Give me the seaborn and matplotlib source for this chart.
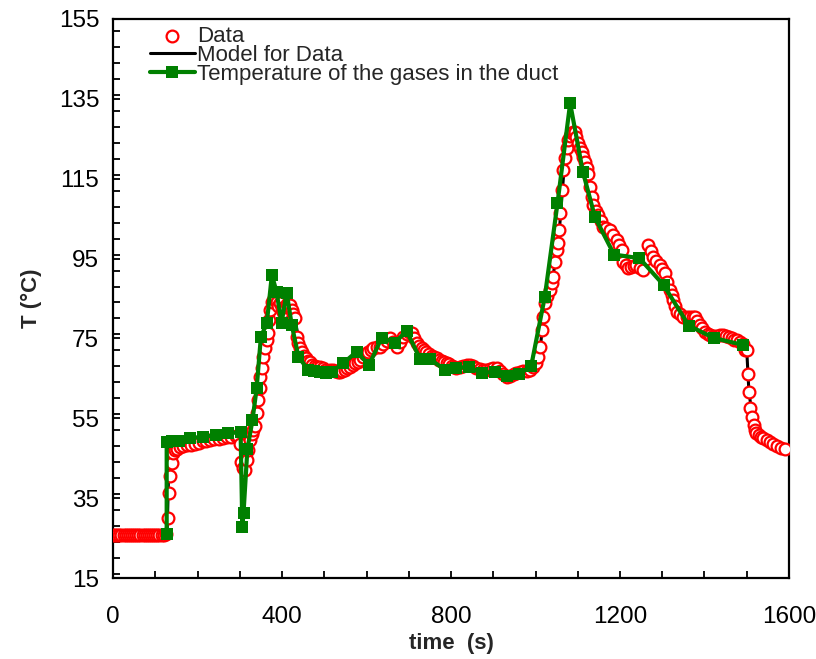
import matplotlib
matplotlib.use("Agg")
import matplotlib.pyplot as plt
import seaborn as sns
import pandas as pd
from matplotlib.ticker import MultipleLocator

# ---------------- data ----------------
data_t = [0, 5, 10, 15, 20, 25, 30, 35, 40, 45, 50, 55, 60, 65, 70, 75, 80, 85, 90, 95, 100, 105, 110, 115, 120, 125,
          131, 133, 135, 139, 143, 147, 152, 159, 166, 175, 185, 194, 203, 212, 221, 230, 240, 250, 261, 270, 280, 290,
          296, 300, 304, 308, 312, 316, 320, 324, 328, 332, 336, 340, 344, 347, 349, 352, 356, 360, 364, 367, 370, 372,
          376, 380, 383, 387, 391, 395, 399, 403, 407, 411, 415, 419, 423, 427, 431, 435, 439, 443, 447, 452, 457, 462,
          466, 472, 478, 484, 490, 496, 502, 508, 514, 520, 526, 532, 537, 543, 549, 555, 561, 567, 573, 579, 585, 591,
          597, 603, 610, 616, 624, 632, 640, 648, 656, 663, 671, 679, 687, 695, 701, 707, 713, 719, 725, 731, 737, 742,
          748, 754, 760, 766, 772, 778, 784, 790, 796, 802, 808, 813, 821, 829, 837, 845, 853, 860, 868, 876, 884, 892,
          900, 908, 916, 924, 932, 940, 948, 955, 963, 971, 979, 987, 995, 1001, 1007, 1011, 1015, 1018, 1022, 1028,
          1034, 1038, 1042, 1046, 1050, 1054, 1056, 1058, 1062, 1066, 1070, 1074, 1078, 1082, 1086, 1089, 1093, 1097,
          1101, 1105, 1109, 1113, 1117, 1121, 1125, 1129, 1133, 1137, 1143, 1149, 1155, 1160, 1168, 1176, 1184, 1192,
          1198, 1204, 1208, 1214, 1220, 1227, 1233, 1239, 1247, 1255, 1261, 1267, 1273, 1279, 1286, 1294, 1300, 1306,
          1312, 1318, 1322, 1326, 1330, 1334, 1342, 1350, 1358, 1366, 1372, 1378, 1383, 1389, 1395, 1401, 1408, 1414,
          1421, 1428, 1436, 1444, 1450, 1457, 1464, 1470, 1477, 1484, 1490, 1496, 1500, 1502, 1505, 1508, 1512, 1516,
          1520, 1523, 1528, 1533, 1539, 1547, 1555, 1563, 1571, 1580, 1590]
data_T = [25.7] * 24 + [25.8, 26.0,
          30.1, 36.2, 40.6, 43.9, 46.4, 47.0, 47.4, 47.9, 48.0, 48.2, 48.4, 48.5, 48.9, 49.2, 49.4, 49.6, 49.8, 49.9,
          50.0, 50.2, 50.3, 50.5,
          50.6, 48.5, 44.0, 42.5, 42.0, 44.5, 47.0, 49.5, 51.0, 52.0, 53.0, 56.2, 59.6, 62.5, 65.4, 67.5, 70.4, 72.5,
          74.5, 76.3, 79.5, 82.1, 84.2, 85.0, 84.6, 84.0, 83.0, 83.8, 82.5, 81.7, 82.8, 83.5, 83.0, 83.4, 82.0, 81.0,
          80.0, 75.4, 73.8, 72.5, 71.7, 70.6, 70.0, 69.4, 69.0, 68.4, 68.0, 67.8, 67.9, 67.5, 67.0, 66.8, 67.2, 67.0,
          66.8, 66.7, 66.7, 66.9, 67.2, 67.6, 67.9, 68.3, 68.8, 69.2, 69.6, 70.3, 71.0, 71.6, 72.2, 72.5, 72.8, 72.9,
          73.5, 74.3, 75.0, 74.0, 72.9, 74.0, 75.4, 76.0, 76.5, 76.3, 75.0, 73.8, 73.0, 72.5, 72.0, 71.7, 71.2, 70.7,
          70.3, 70.0, 69.7, 69.3, 69.0, 68.8, 68.5, 68.1, 67.8, 67.5, 67.8, 68.1, 68.3, 68.3, 68.0, 67.6, 67.3, 67.1,
          67.2, 67.4, 67.5, 67.5, 66.9, 66.2, 65.4, 65.6, 66.0, 66.4, 66.7, 66.8, 66.9, 67.1, 67.8, 68.8, 70.4, 72.9,
          77.1, 80.4, 83.8, 85.5, 87.1, 88.8, 90.5, 94.2, 97.1, 98.8, 102.2, 106.3, 112.2, 117.2, 120.1, 122.6, 124.7,
          125.8, 126.4, 126.8, 126.8, 125.5, 123.9, 122.8, 121.8, 120.5, 119.3, 117.8, 116.3, 113.0, 110.5, 108.4,
          107.0, 105.9, 104.4, 103.0, 102.6, 102.2, 101.0, 99.6, 98.5, 97.1, 94.2, 93.4, 92.6, 92.8, 93.1, 93.4, 92.6,
          92.1, 95.0, 98.4, 97.0, 95.5, 94.4, 93.4, 92.4, 91.3, 89.2, 87.1, 85.8, 84.6, 83.2, 81.7, 81.0, 80.4, 80.3,
          80.4, 80.4, 80.4, 79.4, 78.4, 77.5, 76.7, 76.1, 75.8, 75.5, 75.6, 75.8, 75.9, 75.6, 75.3, 75.0, 74.7, 74.5,
          74.2, 73.5, 72.1, 72.1, 66.1, 61.7, 57.7, 55.4, 53.3, 52.0, 51.2, 50.7, 50.3, 50.0, 49.6, 49.1, 48.6, 48.1,
          47.6, 47.2]

model_t = [0, 128, 133, 150, 200, 250, 300, 305, 312, 320, 330, 345, 360, 373, 385, 400, 420, 432, 445, 470, 520,
           560, 620, 656, 680, 705, 740, 800, 850, 900, 935, 990, 1010, 1020, 1040, 1055, 1068, 1080, 1090, 1105,
           1130, 1160, 1190, 1215, 1250, 1268, 1300, 1330, 1350, 1380, 1420, 1450, 1490, 1500, 1505, 1515, 1540, 1590]
model_T = [25.7, 25.7, 47.5, 48.0, 49.0, 50.0, 51.0, 44.0, 42.0, 46.0, 51.0, 60.0, 72.5, 83.0, 85.0, 83.0, 83.0,
           79.0, 72.0, 68.5, 67.0, 67.8, 72.6, 74.5, 74.5, 76.2, 71.8, 68.2, 68.2, 67.3, 65.8, 67.3, 71.0, 82.0,
           89.5, 100.0, 118.0, 125.5, 126.8, 122.5, 112.5, 103.3, 100.0, 93.5, 92.5, 97.5, 92.3, 83.0, 80.5, 80.0,
           75.5, 75.6, 73.5, 72.0, 62.0, 53.5, 50.0, 47.2]

gas_t = [127, 127, 139, 155, 182, 212, 244, 273, 302, 306, 309, 318, 330, 340, 350, 364, 376, 387, 399, 411, 423,
         439, 462, 476, 490, 504, 518, 545, 577, 606, 636, 667, 695, 727, 750, 786, 813, 843, 873, 904, 932, 962,
         990, 1022, 1052, 1082, 1112, 1141, 1186, 1246, 1303, 1363, 1422, 1490]
gas_T = [26.0, 49.1, 49.3, 49.4, 50.0, 50.4, 50.8, 51.2, 51.6, 27.8, 31.4, 47.2, 54.5, 62.5, 75.4, 78.8, 90.9,
         86.7, 78.9, 86.5, 78.4, 70.4, 67.1, 66.8, 66.6, 66.4, 66.7, 68.8, 71.7, 68.3, 75.2, 73.9, 76.9, 69.8, 69.8,
         67.1, 67.7, 67.8, 66.3, 66.7, 65.7, 66.1, 68.2, 85.4, 108.8, 133.9, 116.8, 105.3, 96.0, 95.1, 88.4, 78.2,
         75.1, 73.4]

x_ticks = [0, 400, 800, 1200, 1600]
y_ticks = [15, 35, 55, 75, 95, 115, 135, 155]

df_data = pd.DataFrame({"t": data_t, "T": data_T})
df_model = pd.DataFrame({"t": model_t, "T": model_T})
df_gas = pd.DataFrame({"t": gas_t, "T": gas_T})

# ---------------- style ----------------
sns.set_style("ticks")
plt.rcParams["font.family"] = ["Liberation Sans", "DejaVu Sans"]

fig = plt.figure(figsize=(8.16, 6.59), dpi=100)
ax = fig.add_axes([0.1385, 0.1229, 0.8284, 0.8483])

sns.scatterplot(data=df_data, x="t", y="T", ax=ax, marker="o", s=72, facecolor="white",
                edgecolor="red", linewidth=1.6, label="Data", zorder=3)
sns.lineplot(data=df_model, x="t", y="T", ax=ax, estimator=None, sort=False, color="black",
             linewidth=2.2, label="Model for Data", zorder=2)
sns.lineplot(data=df_gas, x="t", y="T", ax=ax, estimator=None, sort=False, color="#008000",
             linewidth=3.0, marker="s", markersize=9, markeredgewidth=0,
             label="Temperature of the gases in the duct", zorder=4)

ax.set_xlim(0, 1600)
ax.set_ylim(15, 155)
ax.set_xticks(x_ticks)
ax.set_yticks(y_ticks)
ax.xaxis.set_minor_locator(MultipleLocator(100))
ax.yaxis.set_minor_locator(MultipleLocator(4))
ax.tick_params(axis="both", which="both", direction="in", length=5, width=1.3, labelsize=17.5,
               colors="black")
ax.tick_params(axis="x", which="major", pad=20)
ax.tick_params(axis="y", which="major", pad=10)
for sp in ax.spines.values():
    sp.set_linewidth(1.6)
    sp.set_color("black")
    sp.set_visible(True)

ax.set_xlabel("time  (s)", fontsize=16, fontweight="bold", labelpad=4)
ax.set_ylabel("T (°C)", fontsize=16, fontweight="bold", labelpad=12)

leg = ax.legend(loc="upper left", bbox_to_anchor=(0.055, 0.988), frameon=False, fontsize=16,
                labelspacing=-0.08, handlelength=2.0, handletextpad=0.1, borderaxespad=0, borderpad=0)

fig.savefig("out.png", dpi=100)
